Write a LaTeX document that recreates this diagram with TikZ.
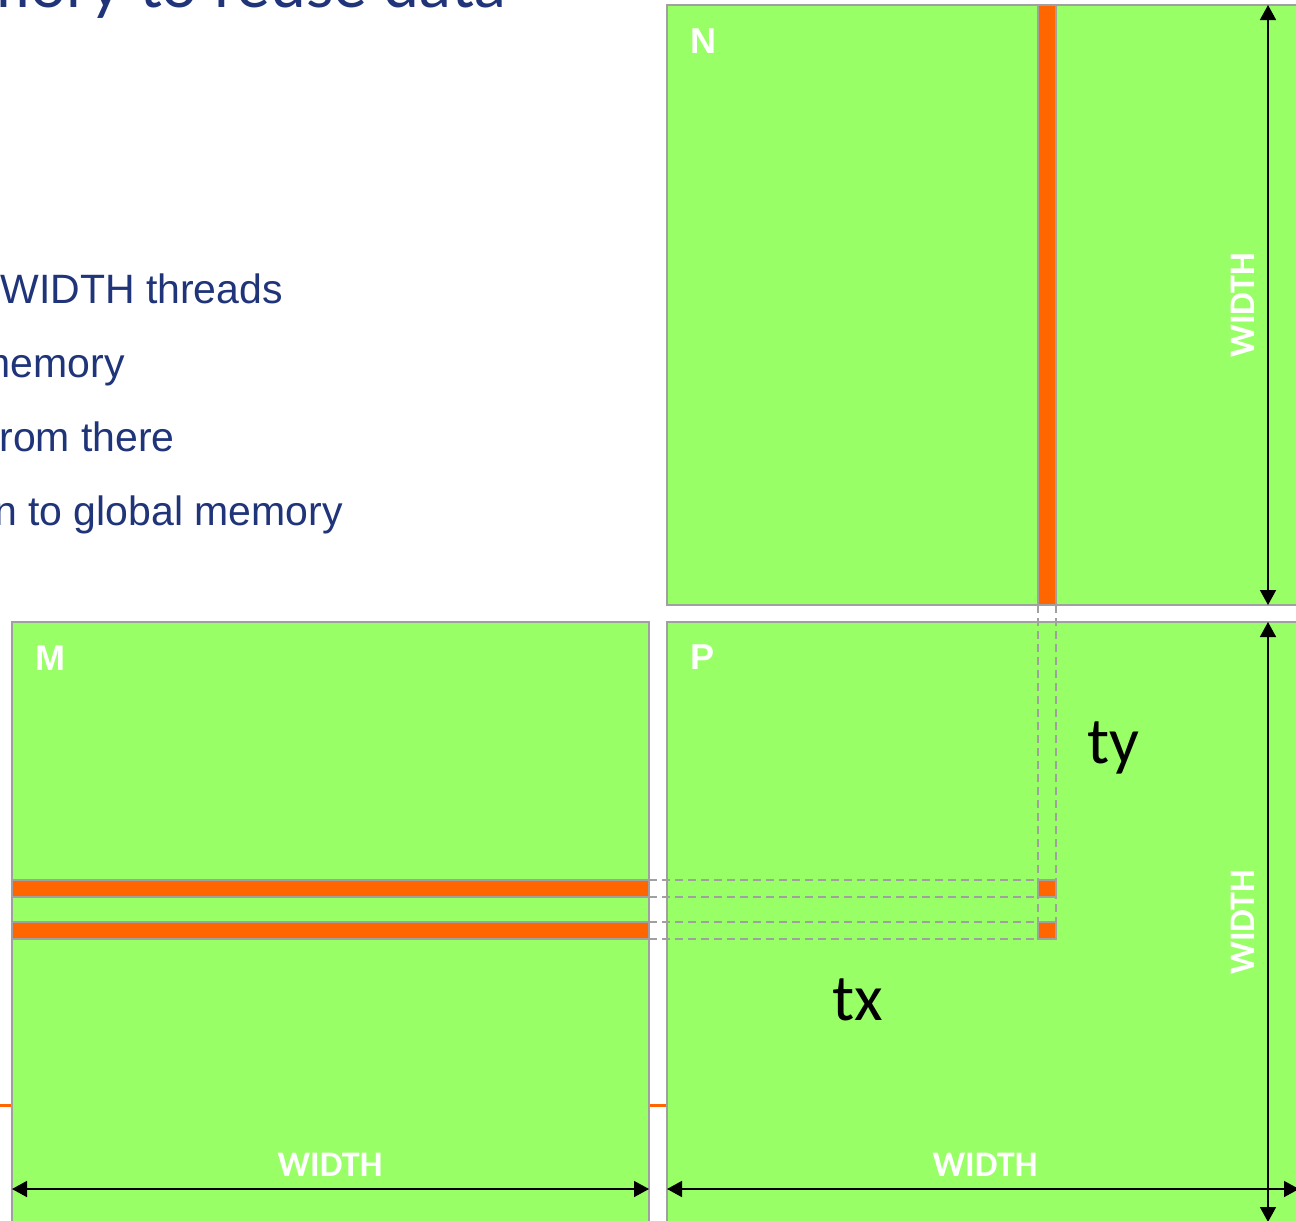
\documentclass[tikz,border=0pt]{standalone}
\usepackage{fontspec}
\setmainfont{Liberation Sans}
\newfontfamily\calib{Carlito}
\newfontfamily\titlef{Lato}
\usetikzlibrary{arrows.meta,calc}
\definecolor{matgreen}{HTML}{99FF66}
\definecolor{stripe}{HTML}{FF6600}
\definecolor{edgegray}{HTML}{A0A0A0}
\definecolor{textblue}{HTML}{1F3479}
\begin{document}
\begin{tikzpicture}[x=1pt,y=-1pt,
  mat/.style={draw=edgegray, line width=2pt, fill=matgreen, inner sep=0pt, outer sep=0pt, anchor=north west},
  strip/.style={draw=edgegray, line width=2pt, fill=stripe, inner sep=0pt, outer sep=0pt, anchor=north west},
  guide/.style={draw=edgegray, line width=2pt, dash pattern=on 8pt off 5pt},
  dim/.style={draw=black, line width=1.6pt, {Triangle[width=16pt,length=15pt]}-{Triangle[width=16pt,length=15pt]}},
  lab/.style={text=white, font=\bfseries\fontsize{36}{36}\selectfont, inner sep=0pt},
  wlab/.style={text=white, font=\calib\bfseries\fontsize{36}{36}\selectfont, inner sep=0pt},
  idx/.style={text=black, font=\calib\fontsize{66}{66}\selectfont, inner sep=0pt, anchor=base},
  bullet/.style={text=textblue, font=\fontsize{41}{41}\selectfont, inner sep=0pt, anchor=base east}
]
\useasboundingbox (0,0) rectangle (1296,1221);
\clip (0,0) rectangle (1296,1221);
% title and bullet text
\node[font=\titlef\fontsize{64}{64}\selectfont, text=textblue, anchor=base east, inner sep=0pt] (title) at (506,7) {memory to reuse data};
\node[bullet] (b1) at (283,303) {WIDTH threads};
\node[bullet] (b2) at (125,377) {memory};
\node[bullet] (b3) at (175,451) {from there};
\node[bullet] (b4) at (343,525) {written to global memory};
% orange line behind
\coordinate (ol) at (0,1105);
\coordinate (or) at (1296,1105);
\draw[stripe, line width=3pt] (ol) -- (or);
% matrices
\node[mat, minimum width=637pt, minimum height=605pt] (M) at (12,622) {};
\node[mat, minimum width=633pt, minimum height=605pt] (P) at (667,622) {};
\node[mat, minimum width=633pt, minimum height=600pt] (N) at (667,5) {};
% strips
\node[strip, minimum width=18pt, minimum height=600pt] (col) at (1038,5) {};
\node[strip, minimum width=637pt, minimum height=17pt] (rowa) at (12,880) {};
\node[strip, minimum width=637pt, minimum height=17pt] (rowb) at (12,922) {};
% guides
\draw[guide] (col.south west) -- (rowb.south west -| col.south west);
\draw[guide] (col.south east) -- (rowb.south east -| col.south east);
\node[strip, minimum width=18pt, minimum height=17pt] (sqa) at (1038,880) {};
\node[strip, minimum width=18pt, minimum height=17pt] (sqb) at (1038,922) {};
\draw[guide] (rowa.north east) -- (sqa.north west);
\draw[guide] (rowa.south east) -- (sqa.south west);
\draw[guide] (rowb.north east) -- (sqb.north west);
\draw[guide] (rowb.south east) -- (sqb.south west);
% labels
\node[lab] (Nl) at (703,41) {N};
\node[lab] (Ml) at (50,658) {M};
\node[lab] (Pl) at (702,657) {P};
\node[wlab, rotate=90] (Nw) at (1243,305) {WIDTH};
\node[wlab, rotate=90] (Pw) at (1243,922) {WIDTH};
\node[wlab] (Mw) at (330,1165) {WIDTH};
\node[wlab] (Pw2) at (985,1165) {WIDTH};
\node[idx] (ty) at (1113,763) {ty};
\node[idx] (tx) at (858,1020) {tx};
% dimension arrows
\coordinate (nt) at (1268,5);
\coordinate (nb) at (1268,605);
\coordinate (pt) at (1268,622);
\coordinate (pb) at (1268,1222);
\coordinate (ml) at (12,1189);
\coordinate (mr) at (649,1189);
\coordinate (pl) at (667,1189);
\coordinate (pr) at (1299,1189);
\draw[dim] (nt) -- (nb);
\draw[dim] (pt) -- (pb);
\draw[dim] (ml) -- (mr);
\draw[dim] (pl) -- (pr);
\end{tikzpicture}
\end{document}
